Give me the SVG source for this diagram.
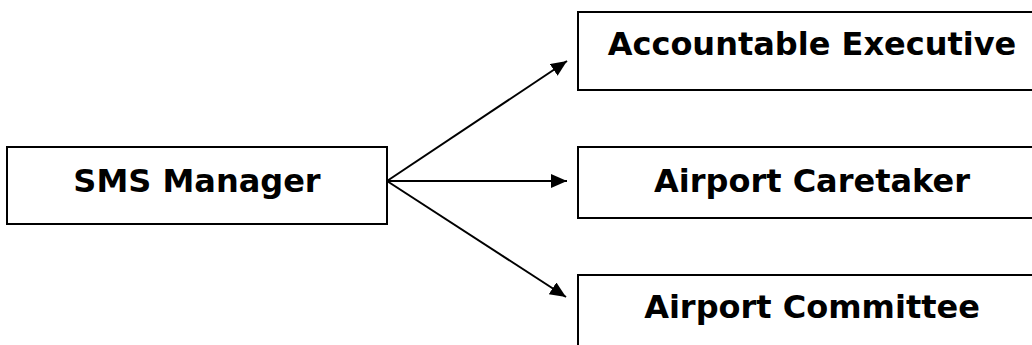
<svg xmlns="http://www.w3.org/2000/svg" width="1032" height="345" viewBox="0 0 1032 345">
<style>
.box{fill:#fff;stroke:#000;stroke-width:2}
.lbl{font-family:"DejaVu Sans",Verdana,sans-serif;font-weight:bold;font-size:32px;fill:#000;text-anchor:middle}
.conn{stroke:#000;stroke-width:2;fill:none}
</style>
<defs>
<marker id="ah" markerUnits="userSpaceOnUse" markerWidth="18" markerHeight="16" refX="16" refY="7" orient="auto">
<path d="M0,0 L16,7 L0,14 Z" fill="#000"/>
</marker>
</defs>
<g id="sms-manager">
<rect class="box" x="7" y="147" width="380" height="77"/>
<text class="lbl" x="197" y="192">SMS Manager</text>
</g>
<g id="accountable-executive">
<rect class="box" x="578" y="12" width="470" height="78"/>
<text class="lbl" x="812" y="55">Accountable Executive</text>
</g>
<g id="airport-caretaker">
<rect class="box" x="578" y="147" width="470" height="71"/>
<text class="lbl" x="812" y="192">Airport Caretaker</text>
</g>
<g id="airport-committee">
<rect class="box" x="578" y="275" width="470" height="90"/>
<text class="lbl" x="812" y="318">Airport Committee</text>
</g>
<g id="connectors">
<line class="conn" x1="387" y1="181" x2="567" y2="61" marker-end="url(#ah)"/>
<line class="conn" x1="387" y1="181" x2="567" y2="181" marker-end="url(#ah)"/>
<line class="conn" x1="387" y1="181" x2="566" y2="297" marker-end="url(#ah)"/>
</g>
</svg>
